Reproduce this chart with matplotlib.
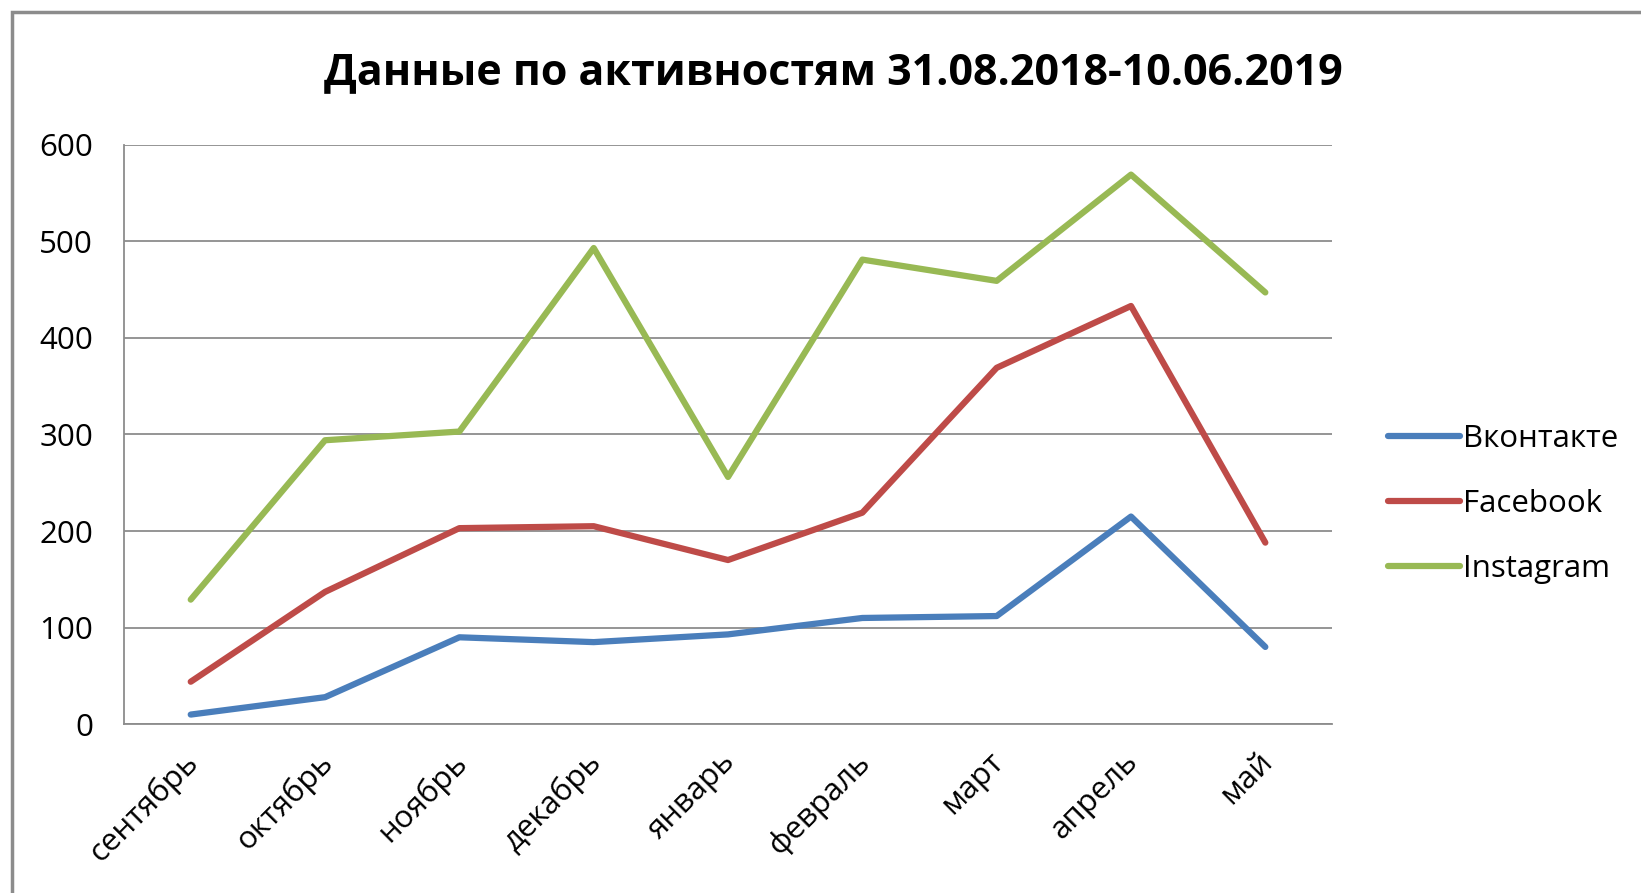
import matplotlib
matplotlib.use("Agg")
import matplotlib.pyplot as plt
import matplotlib.transforms as mtransforms
from matplotlib.patches import Rectangle

# Monthly activity counts per social network
months = ["сентябрь", "октябрь", "ноябрь", "декабрь", "январь",
          "февраль", "март", "апрель", "май"]
vk_values = [10, 28, 90, 85, 93, 110, 112, 215, 80]
fb_values = [44, 137, 203, 205, 170, 219, 369, 433, 188]
ig_values = [129, 294, 303, 493, 256, 481, 459, 569, 447]
y_ticks = [0, 100, 200, 300, 400, 500, 600]

plt.rcParams['font.family'] = ['Open Sans', 'DejaVu Sans']

fig = plt.figure(figsize=(16.41, 8.93), dpi=100)
ax = fig.add_axes([0.0753, 0.189, 0.7367, 0.649])

# outer chart frame (only top and left edges are visible in the crop)
fig.patches.append(Rectangle((12 / 1641, -0.05), 1.2, 1 - 12 / 893 + 0.05,
                             transform=fig.transFigure, fill=False,
                             edgecolor="#8c8c8c", linewidth=2.5))

series = [
    ("Вконтакте", vk_values, "#4a7ebb"),
    ("Facebook", fb_values, "#be4b48"),
    ("Instagram", ig_values, "#98b954"),
]
x = range(len(months))
for label, vals, color in series:
    ax.plot(x, vals, color=color, linewidth=4.5, label=label,
            solid_capstyle="round", solid_joinstyle="round", zorder=3)

ax.set_xlim(-0.5, len(months) - 0.5)
ax.set_ylim(0, 600)
ax.set_yticks(y_ticks)
ax.set_xticks(list(x))
ax.set_xticklabels(months, rotation=45, ha="right", rotation_mode="anchor")
ax.tick_params(axis="both", length=0, labelsize=22.5, colors="#000000")
ax.tick_params(axis="y", pad=22)
ax.tick_params(axis="x", pad=16)

# nudge rotated month labels a bit to the left, like the Excel layout
shift = mtransforms.ScaledTranslation(-8 / 100, 0, fig.dpi_scale_trans)
for lbl in ax.get_xticklabels():
    lbl.set_transform(lbl.get_transform() + shift)

ax.grid(axis="y", color="#8c8c8c", linewidth=1.3)
ax.set_axisbelow(True)
for side in ("top", "right"):
    ax.spines[side].set_visible(False)
for side in ("left", "bottom"):
    ax.spines[side].set_color("#8c8c8c")
    ax.spines[side].set_linewidth(1.3)

fig.text(0.508, 0.919, "Данные по активностям 31.08.2018-10.06.2019",
         ha="center", va="center", fontsize=31, fontweight="bold")

leg = ax.legend(loc="center left", bbox_to_anchor=(0.846, 0.436),
                bbox_transform=fig.transFigure, frameon=False,
                borderaxespad=0, borderpad=0,
                fontsize=22.5, handlelength=2.3, handletextpad=0.1,
                labelspacing=1.12)

fig.savefig("out.png", dpi=100)
